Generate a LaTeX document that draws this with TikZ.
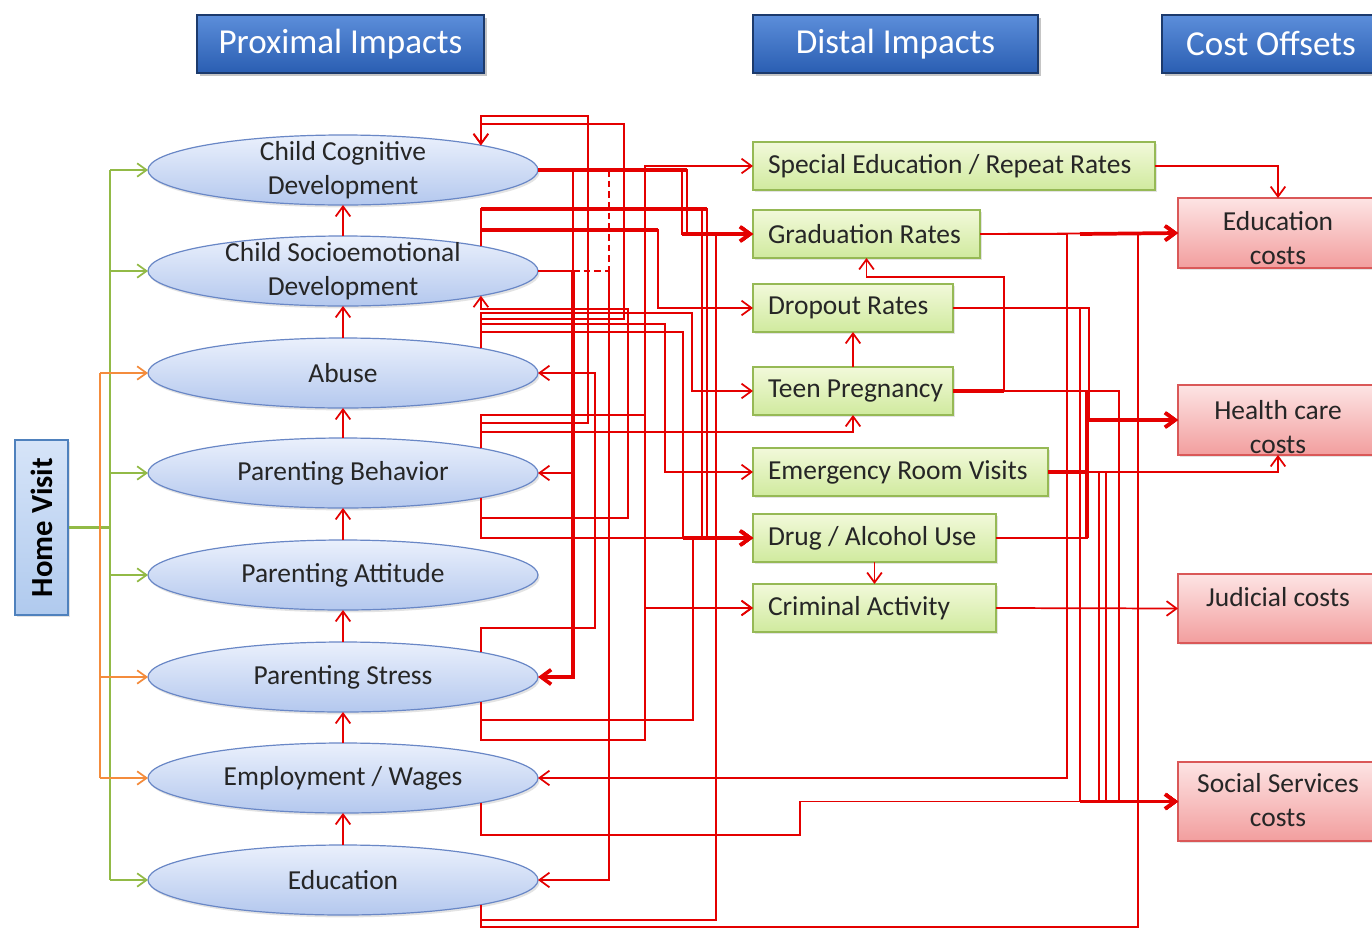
\documentclass[tikz,border=0pt]{standalone}
\usepackage{fontspec}
\setmainfont{Carlito}
\usetikzlibrary{arrows.meta,shadows,shapes.geometric}

\definecolor{wire}{RGB}{228,0,0}
\definecolor{ellTop}{RGB}{234,240,252}
\definecolor{ellBot}{RGB}{180,200,238}
\definecolor{ellLine}{RGB}{105,135,198}
\definecolor{grnTop}{RGB}{242,249,218}
\definecolor{grnBot}{RGB}{208,234,158}
\definecolor{grnLine}{RGB}{150,185,85}
\definecolor{pnkTop}{RGB}{253,228,228}
\definecolor{pnkBot}{RGB}{242,158,158}
\definecolor{pnkLine}{RGB}{218,88,88}
\definecolor{hdrTop}{RGB}{92,142,218}
\definecolor{hdrBot}{RGB}{42,94,178}
\definecolor{hdrLine}{RGB}{28,58,108}
\definecolor{hvTop}{RGB}{214,228,248}
\definecolor{hvBot}{RGB}{176,202,238}
\definecolor{hvLine}{RGB}{79,129,189}
\definecolor{busGreen}{RGB}{146,186,70}
\definecolor{busOrange}{RGB}{244,140,60}

\newcommand{\txtLbl}{\fontsize{20.6}{25.5}\selectfont}
\newcommand{\txtHdr}{\fontsize{26.3}{30}\selectfont}
% left-aligned label of fixed width for the distal boxes
\newcommand{\dtext}[2]{\makebox[#1][l]{#2}}

\begin{document}
\begin{tikzpicture}[x=0.75pt,y=-0.75pt,
  prox/.style={ellipse,minimum width=292.5pt,minimum height=52.5pt,inner sep=0pt,outer sep=0pt,
    draw=ellLine,line width=0.9pt,top color=ellTop,bottom color=ellBot,
    drop shadow={shadow xshift=1.2pt,shadow yshift=-1.8pt,opacity=0.22}},
  ptext/.style={font=\txtLbl,align=center,text=black!85},
  distal/.style={rectangle,anchor=west,minimum height=36pt,inner xsep=11.25pt,inner ysep=0pt,
    outer sep=0pt,
    draw=grnLine,line width=0.9pt,top color=grnTop,bottom color=grnBot,font=\txtLbl,text=black!85,
    drop shadow={shadow xshift=1.2pt,shadow yshift=-1.8pt,opacity=0.22}},
  cost/.style={rectangle,minimum width=150pt,inner sep=0pt,outer sep=0pt,
    draw=pnkLine,line width=0.9pt,top color=pnkTop,bottom color=pnkBot,
    drop shadow={shadow xshift=1.2pt,shadow yshift=-1.8pt,opacity=0.22}},
  ctext/.style={font=\txtLbl,align=center,text=black!85},
  header/.style={rectangle,minimum height=43.5pt,inner sep=0pt,draw=hdrLine,line width=0.8pt,
    top color=hdrTop,bottom color=hdrBot,text=white,font=\txtHdr,
    drop shadow={shadow xshift=2pt,shadow yshift=-2pt,opacity=0.45}},
  hvbox/.style={rectangle,minimum width=39.75pt,minimum height=131.25pt,inner sep=0pt,
    draw=hvLine,line width=0.9pt,top color=hvTop,bottom color=hvBot,
    font=\fontsize{23}{26}\selectfont\bfseries,
    drop shadow={shadow xshift=1.2pt,shadow yshift=-1.8pt,opacity=0.22}},
  rl/.style={draw=wire,line width=1.3pt},
  rlt/.style={draw=wire,line width=2.8pt},
  wtip/.style={-{Straight Barb[length=7.5pt,width=11pt]}},
  gtip/.style={-{Straight Barb[length=7pt,width=10pt]}},
  gw/.style={draw=busGreen,line width=1.3pt},
  ow/.style={draw=busOrange,line width=1.3pt},
  dsh/.style={dash pattern=on 5pt off 3pt},
]
\useasboundingbox (0,0) rectangle (1372,929);
\fill[white] (0,0) rectangle (1372,929);

% column headers
\node[header,minimum width=215.25pt] (h1) at (340.5,44) {Proximal Impacts};
\node[header,minimum width=213.75pt] (h2) at (895.5,44) {Distal Impacts};
\node[header,minimum width=163.5pt] (h3) at (1271,44) {Cost Offsets};

% proximal outcomes
\node[prox,label={[ptext]center:{Child Cognitive\\Development}}] (cc) at (343,170) {};
\node[prox,label={[ptext]center:{Child Socioemotional\\Development}}] (se) at (343,271) {};
\node[prox,label={[ptext]center:{Abuse}}] (ab) at (343,373) {};
\node[prox,label={[ptext]center:{Parenting Behavior}}] (pb) at (343,473) {};
\node[prox,label={[ptext]center:{Parenting Attitude}}] (pa) at (343,575) {};
\node[prox,label={[ptext]center:{Parenting Stress}}] (ps) at (343,677) {};
\node[prox,label={[ptext]center:{Employment / Wages}}] (ew) at (343,778) {};
\node[prox,label={[ptext]center:{Education}}] (ed) at (343,880) {};

% distal outcomes
\node[distal] (sp) at (753,166) {\dtext{279pt}{Special Education / Repeat Rates}};
\node[distal] (gr) at (753,234) {\dtext{147.75pt}{Graduation Rates}};
\node[distal] (dr) at (753,308) {\dtext{127.5pt}{Dropout Rates}};
\node[distal] (tp) at (753,391) {\dtext{127.5pt}{Teen Pregnancy}};
\node[distal] (er) at (753,472) {\dtext{198.75pt}{Emergency Room Visits}};
\node[distal] (da) at (753,538) {\dtext{159.75pt}{Drug / Alcohol Use}};
\node[distal] (ca) at (753,608) {\dtext{159.75pt}{Criminal Activity}};

% cost offsets
\node[cost,minimum height=52.5pt] (ec) at (1278,233) {};
\node[ctext] (ect) at (1278,238) {Education\\costs};
\node[cost,minimum height=52.5pt] (hc) at (1278,420) {};
\node[ctext] (hct) at (1278,427) {Health care\\costs};
\node[cost,minimum height=51.75pt] (jc) at (1278,608.5) {};
\node[ctext] (jct) at (1278,597) {Judicial costs};
\node[cost,minimum height=59.25pt] (ss) at (1278,801.5) {};
\node[ctext] (sst) at (1278,800) {Social Services\\costs};

% home visit and its two feeder buses
\node[hvbox] (hv) at (41.5,527.5) {\rotatebox{90}{Home Visit}};
\draw[gw,line width=2.2pt] (hv.east) -- (110,0 |- hv.east);
\draw[gw] (110,0 |- cc.west) -- (110,0 |- ed.west);
\foreach \n in {cc,se,pb,pa,ed} \draw[gw,gtip] (110,0 |- \n.west) -- (\n.west);
\draw[ow] (100,0 |- ab.west) -- (100,0 |- ew.west);
\foreach \n in {ab,ps,ew} \draw[ow,gtip] (100,0 |- \n.west) -- (\n.west);

% upward links between proximal outcomes
\foreach \a/\b in {se/cc,ab/se,pb/ab,pa/pb,ps/pa,ew/ps,ed/ew}
  \draw[rl,wtip] (\a.north) -- (\b.south);

% links leaving Child Cognitive / Socioemotional Development
\draw[rl,wtip] (cc.east) -| (682,234) -- (gr.west);
\draw[rl,wtip] (cc.east) -| (687,234) -- (gr.west);
\draw[rlt] (cc.east) -- (687,170);
\draw[rlt,wtip] (682,234) -- (gr.west);
\draw[rl] (cc.east -| 573,0) -- (se.east -| 573,0);
\draw[rl] (se.east) -- (se.east -| 573,0);
\draw[rl,dsh] (cc.east -| 609,0) -- (se.east -| 609,0);
\draw[rl,dsh] (se.east -| 573,0) -- (se.east -| 609,0);
\draw[rl,wtip] (se.east -| 609,0) |- (ed.east);
\draw[rlt,wtip] (se.east -| 573,0) |- (ps.east);
\draw[rl,wtip] (se.east -| 573,0) |- (pb.east);
\draw[rl,wtip] (se.north east) |- (702,209) |- (da.west);
\draw[rl,wtip] (se.north east) |- (707,209) |- (da.west);
\draw[rlt] (se.north east |- 0,209) -- (707,209);
\draw[rl,wtip] (se.north east) |- (658,230) |- (dr.west);
\draw[rlt] (se.north east |- 0,230) -- (658,230);

% links leaving Abuse and Parenting Behavior
\draw[rl,wtip] (pb.north east) |- (588,423) |- (cc.north east |- 0,116) -- (cc.north east);
\draw[rl,wtip] (ab.north east) |- (624,319) |- (cc.north east |- 0,124) -- (cc.north east);
\draw[rl,wtip] (pb.south east) |- (628,518) |- (se.south east |- 0,309) -- (se.south east);
\draw[rl,wtip] (ab.north east) |- (692,313) |- (tp.west);
\draw[rl,wtip] (ab.north east) |- (665,324) |- (er.west);
\draw[rl,wtip] (ab.north east) |- (683,332) |- (da.west);
\draw[rl,wtip] (pb.north east) |- (645,415) |- (sp.west);
\draw[rl,wtip] (pb.north east) |- (645,415) |- (ca.west);
\draw[rl,wtip] (pb.north east) |- (tp.south |- 0,432) -- (tp.south);
\draw[rl,wtip] (pb.south east) |- (da.west);
\draw[rlt,wtip] (683,538) -- (da.west);

% links leaving Parenting Stress, Employment and Education
\draw[rl,wtip] (ps.north east) |- (595,628) |- (ab.east);
\draw[rl,wtip] (ps.south east) |- (693,720) |- (da.west);
\draw[rl,wtip] (ps.south east) |- (645,740) |- (ca.west);
\draw[rl,wtip] (ew.south east) |- (800,835) |- (ss.west);
\draw[rl,wtip] (ed.south east) |- (716,920) |- (gr.west);
\draw[rl,wtip] (ed.south east) |- (1138,927) |- (ec.west);

% links among distal outcomes
\draw[rl,wtip] (tp.east) -| (1004,277) -| (gr.south);
\draw[rlt] (tp.east) -- (tp.east -| 1004,0);
\draw[rl,wtip] (tp.north) -- (dr.south);
\draw[rl,wtip] (da.south) -- (ca.north);

% distal outcomes to cost offsets
\draw[rl,wtip] (sp.east) -| (ec.north);
\draw[rl,wtip] (gr.east) -- (ec.west);
\draw[rlt,wtip] (gr.east -| 1080,0) -- (ec.west);
\draw[rl,wtip] (gr.east) -| (1067,778) -- (ew.east);
\draw[rl,wtip] (dr.east) -| (hc.west -| 1089,0) -- (hc.west);
\draw[rl,wtip] (dr.east) -| (ss.west -| 1080,0) -- (ss.west);
\draw[rl,wtip] (tp.east) -| (ss.west -| 1119,0) -- (ss.west);
\draw[rl,wtip] (er.east) -| (hc.south);
\draw[rl,wtip] (er.east) -| (ss.west -| 1099,0) -- (ss.west);
\draw[rl,wtip] (er.east) -| (ss.west -| 1106,0) -- (ss.west);
\draw[rlt] (er.east) -- (er.east -| 1087,0);
\draw[rl,wtip] (da.east) -| (hc.west -| 1087,0) -- (hc.west);
\draw[rlt] (tp.east -| 1087,0) -- (da.east -| 1087,0);
\draw[rlt,wtip] (da.east -| 1087,0) |- (hc.west);
\draw[rlt,wtip] (ss.west -| 1080,0) -- (ss.west);
\draw[rl,wtip] (ca.east) -- (jc.west);
\end{tikzpicture}
\end{document}
